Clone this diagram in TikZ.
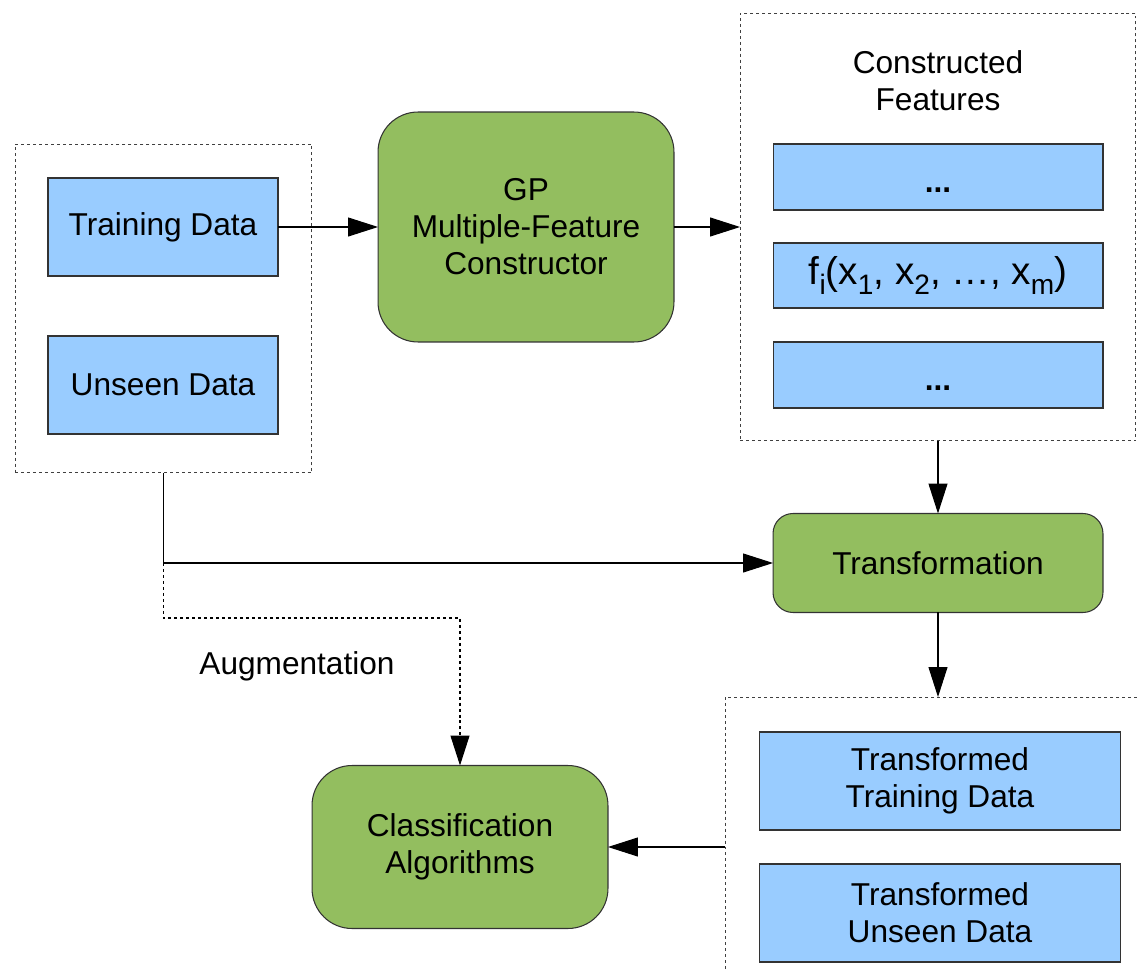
\documentclass[tikz,border=0pt]{standalone}
\usepackage{fontspec}
\setmainfont{Liberation Sans}
\usepackage{tikz}
\usetikzlibrary{arrows.meta}
\definecolor{databl}{RGB}{153,204,255}
\definecolor{procgr}{RGB}{147,190,95}
\newcommand{\lowsub}[1]{\raisebox{-0.5ex}{\fontsize{16}{16}\selectfont #1}}
\tikzset{
    databox/.style={draw=black!80, fill=databl, line width=0.6pt, inner sep=0pt, outer sep=0pt, align=center, minimum width=#1},
    databox/.default=4.6cm,
    procbox/.style={draw=black!80, fill=procgr, line width=0.6pt, inner sep=0pt, outer sep=0pt, align=center, rounded corners=#1},
    procbox/.default=0.8cm,
    groupbox/.style={draw=black!75, dash pattern=on 1.7pt off 1.7pt, line width=0.6pt, inner sep=0pt, outer sep=0pt},
    arr/.style={-{Triangle[length=0.6cm,width=0.38cm]}, line width=0.6pt},
    augline/.style={arr, dash pattern=on 1.7pt off 1.7pt}
}
\begin{document}
\begin{tikzpicture}[x=0.02cm, y=-0.02cm, font=\fontsize{18}{21}\selectfont]

    \clip (0,0) rectangle (1137,970);
    \fill[white] (0,0) rectangle (1137,970);

    % input data
    \node[groupbox, minimum width=5.94cm, minimum height=6.58cm] (inp) at (163.5,308.5) {};
    \node[databox, minimum height=1.96cm] (train) at (163,227) {Training Data};
    \node[databox, minimum height=1.96cm] (unseen) at (163,385) {Unseen Data};

    % constructor
    \node[procbox, minimum width=5.92cm, minimum height=4.6cm] (gp) at (526,227) {GP\\Multiple-Feature\\Constructor};

    % constructed features
    \node[groupbox, minimum width=7.92cm, minimum height=8.56cm] (cons) at (938,227) {};
    \node[align=center] (constxt) at (938,81) {Constructed\\Features};
    \node[databox=6.6cm, minimum height=1.32cm] (fa) at (938,177) {\strut\raisebox{-0.5ex}{\textbf{...}}};
    \node[databox=6.6cm, minimum height=1.3cm, font=\fontsize{22}{22}\selectfont] (fi) at (938,275.5) {f\lowsub{i}(x\lowsub{1}, x\lowsub{2}, \dots, x\lowsub{m})};
    \node[databox=6.6cm, minimum height=1.32cm] (fb) at (938,375) {\strut\raisebox{-0.5ex}{\textbf{...}}};

    \node[procbox=0.4cm, minimum width=6.6cm, minimum height=1.98cm] (trans) at (938,563) {Transformation};

    % transformed data
    \node[groupbox, minimum width=8.5cm, minimum height=6.06cm] (tout) at (937.5,848.5) {};
    \node[databox=7.24cm, minimum height=1.96cm] (ttrain) at (940,781) {Transformed\\Training Data};
    \node[databox=7.24cm, minimum height=1.96cm] (tunseen) at (940,913) {Transformed\\Unseen Data};

    \node[procbox, minimum width=5.92cm, minimum height=3.26cm] (cls) at (460,847) {Classification\\Algorithms};
    \node (aug) at (297,666) {Augmentation};

    \coordinate (bend) at (163.5,618);

    \draw[arr] (train) -- (gp);
    \draw[arr] (gp) -- (cons);
    \draw[arr] (cons) -- (trans);
    \draw[arr] (inp.south) |- (trans.west);
    \draw[augline] (inp.south |- trans.west) -- (bend) -| (cls.north);
    \draw[arr] (trans.south) -- (trans.south |- tout.north);
    \draw[arr] (tout.west |- cls.east) -- (cls.east);

\end{tikzpicture}
\end{document}
